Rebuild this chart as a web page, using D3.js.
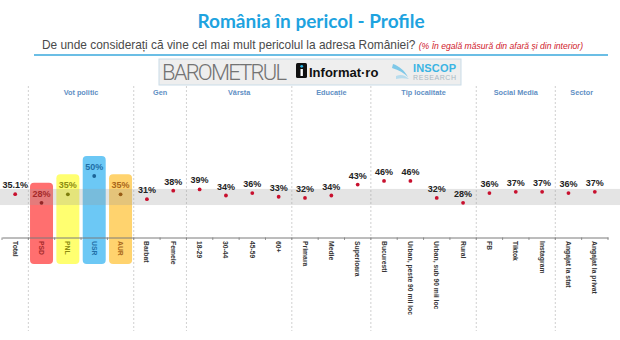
<!DOCTYPE html>
<html>
<head>
<meta charset="utf-8">
<script src="https://cdn.jsdelivr.net/npm/d3@7/dist/d3.min.js"></script>
<style>
  html, body { margin: 0; padding: 0; background: #fff; }
  svg { display: block; }
  text { font-family: "Liberation Sans", Arial, sans-serif; }
</style>
</head>
<body>
<svg id="chart" width="620" height="340"></svg>
<script>
// Categories along the x axis and their share (%)
const categories = ["Total", "PSD", "PNL", "USR", "AUR", "Barbat", "Femeie",
  "18-29", "30-44", "45-59", "60+", "Primara", "Medie", "Superioara",
  "Bucuresti", "Urban, peste 90 mii loc", "Urban, sub 90 mii loc", "Rural",
  "FB", "Tiktok", "Instagram", "Angajat la stat", "Angajat la privat"];
const values = [35.1, 28, 35, 50, 35, 31, 38, 39, 34, 36, 33, 32, 34, 43,
  46, 46, 32, 28, 36, 37, 37, 36, 37];
const valueLabels = ["35.1%", "28%", "35%", "50%", "35%", "31%", "38%", "39%",
  "34%", "36%", "33%", "32%", "34%", "43%", "46%", "46%", "32%", "28%",
  "36%", "37%", "37%", "36%", "37%"];

// Category groups: header text, first and last category index
const groupNames = ["Vot politic", "Gen", "Vârsta", "Educație", "Tip localitate", "Social Media", "Sector"];
const groupStart = [1, 5, 7, 11, 14, 18, 21];
const groupEnd   = [4, 6, 10, 13, 17, 20, 22];

// Party highlight columns
const parties = ["PSD", "PNL", "USR", "AUR"];
const partyFill = ["#ff6f6f", "#ffff70", "#6cc8f5", "#ffd36e"];
const partyInk  = ["#a52a2a", "#8c8c10", "#1f6fa8", "#a8661a"];

// Reference band (value range)
const bandRange = [26.2, 39.4];

const svg = d3.select("#chart");

const x = d3.scaleBand().domain(categories).range([2, 608]).padding(0);
const y = d3.scaleLinear().domain([0, 50]).range([237, 176]);

// Title block
svg.append("text")
  .attr("x", 311).attr("y", 28)
  .attr("text-anchor", "middle")
  .style("font-family", "Lato, 'Liberation Sans', sans-serif")
  .style("font-weight", "bold").style("font-size", "19px")
  .attr("fill", "#1ea3df")
  .text("România în pericol - Profile");

const sub = svg.append("text").attr("x", 42).attr("y", 49)
  .style("font-size", "11.9px").attr("fill", "#4a4a4a");
sub.append("tspan").text("De unde considerați că vine cel mai mult pericolul la adresa României? ");
sub.append("tspan")
  .attr("fill", "#d0202a").style("font-style", "italic").style("font-size", "8.6px")
  .text("(% În egală măsură din afară și din interior)");

svg.append("line").attr("x1", 34).attr("x2", 608).attr("y1", 55).attr("y2", 55)
  .attr("stroke", "#3aa8dc").attr("stroke-width", 1.6);

// Logo strip
const logo = svg.append("g");
logo.append("rect").attr("x", 159).attr("y", 59).attr("width", 302).attr("height", 26)
  .attr("fill", "#eeeeee").attr("stroke", "#c9dce8").attr("stroke-width", 1);
logo.append("text").attr("x", 162).attr("y", 79.5)
  .style("font-family", "Roboto, 'Liberation Sans', sans-serif")
  .style("font-weight", "300").style("font-size", "22px")
  .attr("fill", "#737373").attr("textLength", 125)
  .text("BAROMETRUL");
logo.append("rect").attr("x", 296).attr("y", 63).attr("width", 11).attr("height", 15)
  .attr("rx", 1.5).attr("fill", "#111");
logo.append("rect").attr("x", 300.5).attr("y", 69).attr("width", 2.4).attr("height", 7).attr("fill", "#fff");
logo.append("circle").attr("cx", 301.7).attr("cy", 66.3).attr("r", 1.4).attr("fill", "#29b6e8");
logo.append("text").attr("x", 309).attr("y", 77)
  .style("font-weight", "bold").style("font-size", "13px").attr("fill", "#111")
  .text("Informat·ro");
logo.append("path")
  .attr("d", "M393,64 C399,66 404,70 408,77 C404,73 399,70 392,68 Z")
  .attr("fill", "#7fc8e8");
logo.append("path")
  .attr("d", "M396,76 C401,74 405,75 409,79 C404,78 400,78 396,79 Z")
  .attr("fill", "#b8dced");
logo.append("text").attr("x", 413).attr("y", 72)
  .style("font-weight", "bold").style("font-size", "11px").attr("fill", "#3bb4e3")
  .attr("textLength", 43)
  .text("INSCOP");
logo.append("text").attr("x", 413).attr("y", 79.5)
  .style("font-size", "7px").attr("fill", "#aab8c2").attr("textLength", 43)
  .text("RESEARCH");

// Group separators and headers
const sepX = [x(categories[1])].concat(groupEnd.map(i => x(categories[i]) + x.bandwidth()));
svg.append("g").selectAll("line").data(sepX.slice(0, -1)).join("line")
  .attr("x1", d => d).attr("x2", d => d).attr("y1", 86).attr("y2", 331)
  .attr("stroke", "#c4c4c4").attr("stroke-width", 0.8).attr("stroke-dasharray", "2,2");

svg.append("g").selectAll("text").data(groupNames).join("text")
  .attr("x", (d, i) => (x(categories[groupStart[i]]) + x(categories[groupEnd[i]]) + x.bandwidth()) / 2)
  .attr("y", 94.5)
  .attr("text-anchor", "middle")
  .style("font-size", "7.3px").style("font-weight", "bold")
  .attr("fill", "#5f8fc4")
  .text(d => d);

// Party columns
const partyIdx = p => categories.indexOf(p);
svg.append("g").selectAll("rect").data(parties).join("rect")
  .attr("x", p => x(p) + x.bandwidth() / 2 - 11.5)
  .attr("width", 23)
  .attr("y", p => y(values[partyIdx(p)]) - 20)
  .attr("height", p => 264 - (y(values[partyIdx(p)]) - 20))
  .attr("rx", 4)
  .attr("fill", (p, i) => partyFill[i]);

// Reference band
svg.append("rect")
  .attr("x", 0).attr("width", 620)
  .attr("y", y(bandRange[1])).attr("height", y(bandRange[0]) - y(bandRange[1]))
  .attr("fill", "#9a9a9a").attr("opacity", 0.27);

// Axis
const axis = d3.axisBottom(x).tickSize(0).tickFormat("");
const axG = svg.append("g").attr("transform", "translate(0,237.5)").call(axis);
axG.select(".domain").attr("stroke", "#7a7a7a").attr("stroke-width", 1);
axG.selectAll(".tick").remove();
svg.append("g").selectAll("line").data(categories.concat(["_end"])).join("line")
  .attr("x1", (d, i) => 2 + i * x.bandwidth()).attr("x2", (d, i) => 2 + i * x.bandwidth())
  .attr("y1", 237.5).attr("y2", 240)
  .attr("stroke", "#7a7a7a").attr("stroke-width", 0.8);

// Category labels (rotated)
const inkFor = c => { const k = parties.indexOf(c); return k >= 0 ? partyInk[k] : "#333"; };
svg.append("g").selectAll("text").data(categories).join("text")
  .attr("transform", c => `translate(${x(c) + x.bandwidth() / 2 - 2.5},241) rotate(90)`)
  .style("font-size", "6.8px").style("font-weight", "bold")
  .attr("fill", inkFor)
  .text(c => c);

// Value markers
svg.append("g").selectAll("circle").data(categories).join("circle")
  .attr("cx", c => x(c) + x.bandwidth() / 2)
  .attr("cy", (c, i) => y(values[i]))
  .attr("r", 1.9)
  .attr("fill", c => parties.includes(c) ? d3.color(inkFor(c)).darker(0.3) : "#c8102e");

// Value labels
svg.append("g").selectAll("text").data(categories).join("text")
  .attr("x", c => x(c) + x.bandwidth() / 2)
  .attr("y", (c, i) => y(values[i]) - 6)
  .attr("text-anchor", "middle")
  .style("font-size", "9px").style("font-weight", "bold")
  .attr("fill", c => parties.includes(c) ? inkFor(c) : "#222")
  .text((c, i) => valueLabels[i]);
</script>
</body>
</html>
